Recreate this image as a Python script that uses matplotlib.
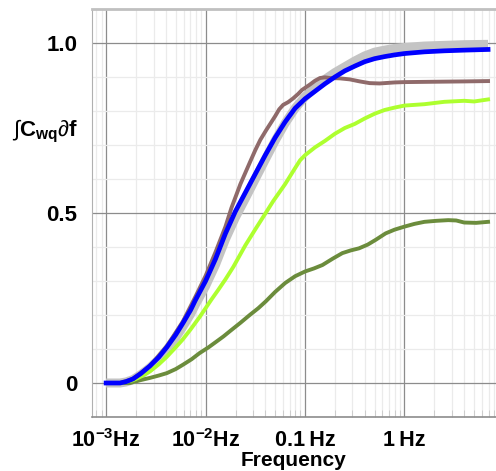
import numpy as np
import matplotlib
matplotlib.use('Agg')
from matplotlib import pyplot as plt
from matplotlib.ticker import LogLocator, FixedLocator, MultipleLocator, NullFormatter

plt.rcParams['font.family'] = ['Liberation Sans', 'DejaVu Sans']
plt.rcParams['mathtext.fontset'] = 'custom'
plt.rcParams['mathtext.rm'] = 'Liberation Sans'
plt.rcParams['mathtext.bf'] = 'Liberation Sans:bold'
plt.rcParams['mathtext.it'] = 'Liberation Sans:italic'

# curvas (log10 da frequência -> integral acumulada)
blue_logf = [-3.0, -2.86, -2.8, -2.73, -2.65, -2.56, -2.47, -2.39, -2.3, -2.23, -2.15, -2.1,
             -2.0, -1.9, -1.8, -1.7, -1.6, -1.5, -1.4, -1.3, -1.2, -1.1, -1.0, -0.9, -0.8,
             -0.7, -0.6, -0.5, -0.4, -0.3, -0.2, -0.1, 0.0, 0.2, 0.4, 0.6, 0.84]
blue_val = [0.0, 0.0, 0.004, 0.012, 0.028, 0.05, 0.076, 0.105, 0.142, 0.175, 0.215, 0.245,
            0.30, 0.365, 0.44, 0.505, 0.56, 0.615, 0.67, 0.722, 0.768, 0.808, 0.836, 0.858,
            0.88, 0.90, 0.918, 0.932, 0.945, 0.954, 0.96, 0.965, 0.969, 0.974, 0.977, 0.979,
            0.981]

gray_logf = [-3.0, -2.86, -2.8, -2.73, -2.65, -2.56, -2.47, -2.39, -2.3, -2.23, -2.15, -2.1,
             -2.0, -1.9, -1.8, -1.7, -1.6, -1.5, -1.4, -1.3, -1.2, -1.1, -1.0, -0.9, -0.8,
             -0.7, -0.6, -0.5, -0.4, -0.3, -0.2, -0.1, 0.0, 0.2, 0.4, 0.6, 0.84]
gray_val = [0.0, 0.0, 0.003, 0.01, 0.025, 0.045, 0.07, 0.098, 0.133, 0.165, 0.203, 0.232,
            0.285, 0.348, 0.423, 0.487, 0.543, 0.6, 0.657, 0.713, 0.764, 0.808, 0.842, 0.868,
            0.893, 0.913, 0.93, 0.947, 0.962, 0.973, 0.979, 0.984, 0.987, 0.991, 0.993,
            0.995, 0.996]

brown_logf = [-3.0, -2.86, -2.73, -2.56, -2.39, -2.23, -2.1, -2.0, -1.9, -1.8, -1.74, -1.65,
              -1.556, -1.5, -1.45, -1.39, -1.3, -1.26, -1.22, -1.17, -1.12, -1.07, -1.03,
              -0.95, -0.9, -0.85, -0.8, -0.75, -0.65, -0.55, -0.45, -0.35, -0.25, -0.1, 0.0,
              0.3, 0.6, 0.84]
brown_val = [0.0, 0.0, 0.012, 0.05, 0.108, 0.18, 0.255, 0.315, 0.385, 0.46, 0.515, 0.585,
             0.648, 0.685, 0.715, 0.744, 0.785, 0.805, 0.818, 0.826, 0.837, 0.85, 0.862,
             0.878, 0.889, 0.897, 0.899, 0.897, 0.896, 0.893, 0.887, 0.882, 0.881, 0.884,
             0.885, 0.886, 0.887, 0.888]

lime_logf = [-3.0, -2.86, -2.73, -2.65, -2.56, -2.47, -2.39, -2.3, -2.23, -2.15, -2.06, -2.0,
             -1.94, -1.87, -1.8, -1.72, -1.6, -1.5, -1.4, -1.32, -1.2, -1.1, -1.05, -1.0,
             -0.9, -0.8, -0.7, -0.6, -0.5, -0.4, -0.3, -0.2, -0.1, 0.0, 0.2, 0.4, 0.6, 0.7,
             0.84]
lime_val = [0.0, 0.0, 0.008, 0.019, 0.034, 0.055, 0.077, 0.105, 0.128, 0.158, 0.194, 0.22,
            0.246, 0.275, 0.305, 0.342, 0.405, 0.452, 0.498, 0.535, 0.585, 0.632, 0.655,
            0.67, 0.693, 0.712, 0.733, 0.75, 0.762, 0.778, 0.792, 0.803, 0.81, 0.816, 0.82,
            0.827, 0.83, 0.828, 0.834]

olive_logf = [-3.0, -2.76, -2.66, -2.56, -2.47, -2.39, -2.3, -2.226, -2.14, -2.06, -1.97,
              -1.89, -1.82, -1.757, -1.65, -1.556, -1.47, -1.395, -1.3, -1.2, -1.1, -1.0,
              -0.91, -0.825, -0.72, -0.625, -0.54, -0.458, -0.37, -0.29, -0.19, -0.1, 0.0,
              0.1, 0.2, 0.32, 0.44, 0.52, 0.6, 0.72, 0.84]
olive_val = [0.0, 0.0, 0.008, 0.015, 0.022, 0.029, 0.041, 0.054, 0.07, 0.088, 0.105, 0.122,
             0.137, 0.152, 0.177, 0.2, 0.22, 0.24, 0.268, 0.294, 0.314, 0.328, 0.337, 0.347,
             0.366, 0.382, 0.39, 0.396, 0.407, 0.421, 0.44, 0.451, 0.46, 0.468, 0.474, 0.477,
             0.479, 0.478, 0.472, 0.471, 0.474]

y_ticks = [0, 0.5, 1.0]
y_ticklabels = ['0', '0.5', '1.0']
x_ticks = [1e-3, 1e-2, 1e-1, 1]
x_ticklabels = [r'$\mathbf{10^{-3}}$Hz', r'$\mathbf{10^{-2}}$Hz', '0.1\u2009Hz', '1\u2009Hz']

fig = plt.figure(figsize=(4.96, 4.71), dpi=100)
ax = fig.add_axes([91.5 / 496, 1 - 417 / 471, 1 - 91.5 / 496, (417 - 9) / 471])

ax.plot(10 ** np.array(gray_logf), gray_val, color='#c4c4c4', lw=6.5, solid_capstyle='butt', zorder=3)
ax.plot(10 ** np.array(olive_logf), olive_val, color='#6b8c3c', lw=2.8, zorder=4)
ax.plot(10 ** np.array(lime_logf), lime_val, color='#adff2f', lw=2.8, zorder=4)
ax.plot(10 ** np.array(brown_logf), brown_val, color='#8f6a6a', lw=2.8, zorder=5)
ax.plot(10 ** np.array(blue_logf), blue_val, color='#0000ff', lw=3.4, zorder=6)

ax.set_xscale('log')
ax.set_xlim(10 ** -3.147, 10 ** 0.92)
ax.set_ylim(-0.1, 1.1)

ax.xaxis.set_major_locator(FixedLocator(x_ticks))
ax.set_xticklabels(x_ticklabels)
ax.xaxis.set_minor_locator(LogLocator(base=10, subs=np.arange(2, 10)))
ax.xaxis.set_minor_formatter(NullFormatter())
ax.set_yticks(y_ticks)
ax.set_yticklabels(y_ticklabels)
ax.yaxis.set_minor_locator(MultipleLocator(0.1))

ax.grid(True, which='major', color='#8c8c8c', lw=0.9, zorder=1)
ax.grid(True, which='minor', color='#ebebeb', lw=0.9, zorder=0)
ax.set_axisbelow(True)

ax.tick_params(axis='x', which='major', length=0, labelsize=15.5, pad=9)
ax.tick_params(axis='y', which='major', length=0, labelsize=16, pad=10)
ax.tick_params(axis='y', which='minor', length=0)
ax.tick_params(axis='x', which='minor', direction='in', length=5, color='#c8c8c8')
for lab in ax.get_xticklabels() + ax.get_yticklabels():
    lab.set_fontweight('bold')

ax.spines['right'].set_visible(False)
ax.spines['top'].set_color('#c0c0c0')
ax.spines['top'].set_linewidth(2)
ax.spines['left'].set_color('#b0b0b0')
ax.spines['bottom'].set_color('#8c8c8c')
ax.spines['bottom'].set_linewidth(1.2)

# rótulo do eixo x posicionado à mão para não ser cortado
fig.text((91.5 + 496) / 2 / 496, 1 - 466 / 471, 'Frequency', fontsize=15,
         fontweight='bold', ha='center', va='baseline')
fig.text(12 / 496, 1 - 131 / 471, r'$\int\mathbf{C_{wq}}\partial\mathbf{f}$',
         fontsize=16, va='center', ha='left')

fig.savefig('out.png', dpi=100)
